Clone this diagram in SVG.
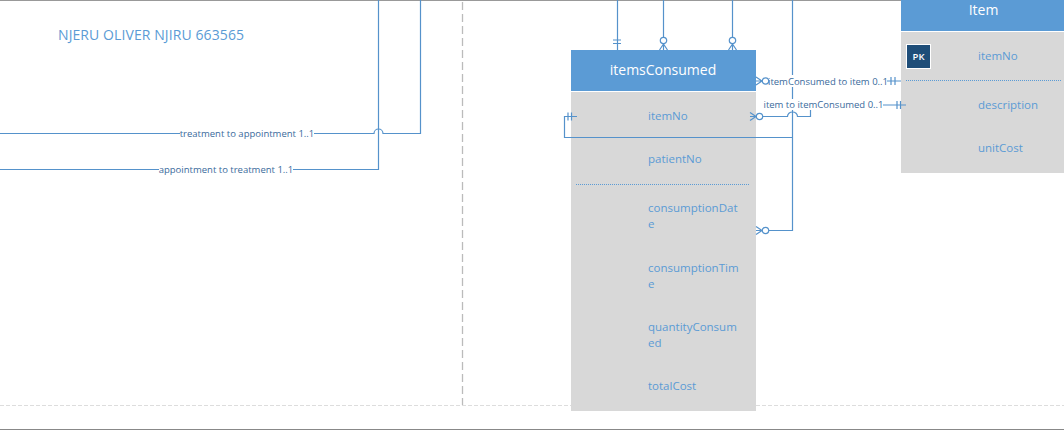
<svg xmlns="http://www.w3.org/2000/svg" width="1064" height="430" viewBox="0 0 1064 430">
<style>
text{font-family:"Open Sans","Noto Sans","Liberation Sans",sans-serif}
.c{fill:none;stroke:#5592cb;stroke-width:1.2}
.hd{fill:#5b9bd5}
.bd{fill:#d8d8d8}
.ht{fill:#fff;font-size:14px;text-anchor:middle}
.at{fill:#5b9bd5;font-size:11.5px}
.lb{fill:#3a6a9c;font-size:9.5px;text-anchor:middle}
.lbg{fill:#fff}
.sep{stroke:#5b9bd5;stroke-width:1;stroke-dasharray:1 1}
</style>
<defs>
<g id="many" class="c"><path d="M0-4 6 0 0 4M0 0H6"/><circle cx="9.500" r="3.200" fill="#fff"/></g>
</defs>
<rect width="1064" height="430" fill="#fff"/>
<g id="frame">
<path d="M0 .5H1064" stroke="#999" stroke-width="1"/>
<path d="M0 429.5H1064" stroke="#888" stroke-width="1"/>
<path d="M462.500 2V405" stroke="#bbb" stroke-width="1.300" stroke-dasharray="8 4"/>
<path d="M0 405.500H1064" stroke="#ddd" stroke-width="1" stroke-dasharray="4 2"/>
</g>
<g id="title"><text x="58" y="40" font-size="14" fill="#5b9bd5" textLength="186">NJERU OLIVER NJIRU 663565</text></g>
<g id="itemsConsumed">
<rect class="hd" x="571" y="50" width="185" height="41"/>
<rect class="bd" x="571" y="92" width="185" height="319"/>
<text class="ht" x="663" y="75">itemsConsumed</text>
<text class="at" x="648" y="120">itemNo</text>
<text class="at" x="648" y="163">patientNo</text>
<path class="sep" d="M576 184.500H750"/>
<text class="at" x="648" y="212">consumptionDat</text>
<text class="at" x="648" y="228">e</text>
<text class="at" x="648" y="272">consumptionTim</text>
<text class="at" x="648" y="288">e</text>
<text class="at" x="648" y="331">quantityConsum</text>
<text class="at" x="648" y="347">ed</text>
<text class="at" x="648" y="390">totalCost</text>
</g>
<g id="Item">
<rect class="hd" x="901" y="0" width="163" height="31"/>
<rect class="bd" x="901" y="32" width="163" height="141"/>
<text class="ht" x="983.500" y="15">Item</text>
<rect x="906.500" y="44.500" width="24" height="24" fill="#1f4e79" stroke="#fff"/>
<text x="918.500" y="59.500" font-size="9.500" font-weight="600" fill="#fff" text-anchor="middle">PK</text>
<text class="at" x="978" y="60">itemNo</text>
<path class="sep" d="M906 80.500H1062"/>
<text class="at" x="978" y="109">description</text>
<text class="at" x="978" y="152">unitCost</text>
</g>
<g id="connectors">
<path class="c" d="M617.500 0V50M613 40H621M613 43.500H621"/>
<path class="c" d="M663.500 0V37"/>
<use href="#many" transform="translate(663.500 50) rotate(-90)"/>
<path class="c" d="M732.500 0V37"/>
<use href="#many" transform="translate(732.500 50) rotate(-90)"/>
<path class="c" d="M792.500 0V230.500H769"/>
<path class="c" d="M769 81H901M891 77V85M895 77V85"/>
<path class="c" d="M763 116.500H787.500A5 4.500 0 0 1 797.500 116.500H810.500V105H906M897 101V109M900.500 101V109"/>
<path class="c" d="M792.500 137.500H564.500V116.500H577M568 112.500V120.500M571.500 112.500V120.500"/>
<path class="c" d="M0 133.500H374A4.500 4.500 0 0 1 383 133.500H420.500V0"/>
<path class="c" d="M0 169.500H378.500V0"/>
<rect class="lbg" x="180" y="127" width="134" height="13"/>
<text class="lb" x="247" y="137">treatment to appointment 1..1</text>
<rect class="lbg" x="159" y="163" width="134" height="13"/>
<text class="lb" x="226" y="173">appointment to treatment 1..1</text>
<rect class="lbg" x="768" y="75" width="119" height="12"/>
<text class="lb" x="828" y="84.500">itemConsumed to item 0..1</text>
<rect class="lbg" x="764" y="99" width="119" height="11"/>
<text class="lb" x="823.500" y="108">item to itemConsumed 0..1</text>
<use href="#many" transform="translate(756 230.500)"/>
<use href="#many" transform="translate(756 81)"/>
<use href="#many" transform="translate(750 116.500)"/>
</g>
</svg>
